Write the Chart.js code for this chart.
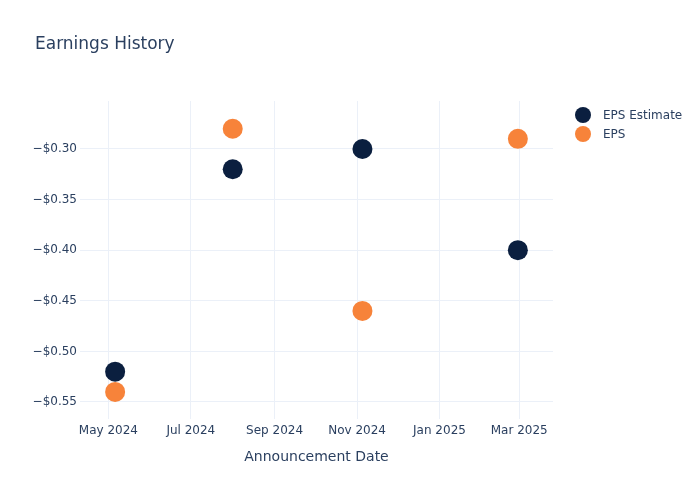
<!DOCTYPE html>
<html>
<head>
<meta charset="utf-8">
<script src="https://cdn.jsdelivr.net/npm/chart.js@4.4.1/dist/chart.umd.min.js"></script>
<style>
  html, body { margin: 0; padding: 0; background: #fff; }
  #wrap { width: 700px; height: 500px; }
</style>
</head>
<body>
<div id="wrap"><canvas id="chart" width="700" height="500"></canvas></div>
<script>
const seriesNames = ['EPS Estimate', 'EPS'];
const seriesColors = ['#0b1f3f', '#f7833a'];
const announceDates = ['2024-05-06', '2024-08-01', '2024-11-05', '2025-02-28'];
const epsEstimate = [-0.52, -0.32, -0.30, -0.40];
const epsActual = [-0.54, -0.28, -0.46, -0.29];
const xTickDates = ['2024-05-01', '2024-07-01', '2024-09-01', '2024-11-01', '2025-01-01', '2025-03-01'];
const xTickLabels = ['May 2024', 'Jul 2024', 'Sep 2024', 'Nov 2024', 'Jan 2025', 'Mar 2025'];
const yTicks = [-0.55, -0.50, -0.45, -0.40, -0.35, -0.30];
const xRange = ['2024-04-10', '2025-03-26'];
const yRange = [-0.5668, -0.2526];

const FONT = "'DejaVu Sans', Verdana, sans-serif";
const TEXT = '#2a3f5f';
const GRID = '#ebf0f8';

const ms = d => Date.parse(d + 'T00:00:00Z');
const toPoints = vals => vals.map((v, i) => ({ x: ms(announceDates[i]), y: v }));
const fmtMoney = v => (v < 0 ? '\u2212' : '') + '$' + Math.abs(v).toFixed(2);

// title + legend drawn at plotly-like spots
const decor = {
    id: 'decor',
    afterDraw(chart) {
        const ctx = chart.ctx;
        ctx.save();
        ctx.fillStyle = TEXT;
        ctx.font = '17px ' + FONT;
        ctx.textBaseline = 'middle';
        ctx.textAlign = 'left';
        ctx.fillText('Earnings History', 35, 45);

        ctx.font = '12px ' + FONT;
        chart.data.datasets.forEach((ds, i) => {
            const y = 115 + i * 19;
            ctx.beginPath();
            ctx.arc(583, y, 8, 0, Math.PI * 2);
            ctx.fillStyle = ds.backgroundColor;
            ctx.fill();
            ctx.fillStyle = TEXT;
            ctx.fillText(ds.label, 603, y + 1);
        });
        ctx.restore();
    }
};

new Chart(document.getElementById('chart').getContext('2d'), {
    type: 'scatter',
    data: {
        datasets: [
            {
                label: seriesNames[0],
                data: toPoints(epsEstimate),
                backgroundColor: seriesColors[0],
                borderColor: seriesColors[0],
                pointRadius: 10,
                pointHoverRadius: 10,
                borderWidth: 0,
                order: 1
            },
            {
                label: seriesNames[1],
                data: toPoints(epsActual),
                backgroundColor: seriesColors[1],
                borderColor: seriesColors[1],
                pointRadius: 10,
                pointHoverRadius: 10,
                borderWidth: 0,
                order: 0
            }
        ]
    },
    options: {
        responsive: false,
        animation: false,
        layout: { padding: { top: 101, right: 147, bottom: 0, left: 0 } },
        plugins: {
            legend: { display: false },
            tooltip: { enabled: false }
        },
        scales: {
            x: {
                type: 'linear',
                min: ms(xRange[0]),
                max: ms(xRange[1]),
                afterBuildTicks: scale => { scale.ticks = xTickDates.map(d => ({ value: ms(d) })); },
                afterFit: scale => { scale.height = 81; },
                grid: { color: GRID, lineWidth: 1, drawTicks: false },
                border: { display: false },
                ticks: {
                    padding: 5,
                    color: TEXT,
                    font: { family: FONT, size: 12 },
                    maxRotation: 0,
                    autoSkip: false,
                    callback: v => xTickLabels[xTickDates.map(ms).indexOf(v)]
                },
                title: {
                    display: true,
                    text: 'Announcement Date',
                    color: TEXT,
                    font: { family: FONT, size: 14 },
                    padding: { top: 0, bottom: 34 }
                }
            },
            y: {
                min: yRange[0],
                max: yRange[1],
                afterBuildTicks: scale => { scale.ticks = yTicks.map(v => ({ value: v })); },
                afterFit: scale => { scale.width = 80; },
                grid: { color: GRID, lineWidth: 1, drawTicks: false },
                border: { display: false },
                ticks: {
                    padding: 3,
                    color: TEXT,
                    font: { family: FONT, size: 12 },
                    callback: v => fmtMoney(v)
                }
            }
        }
    },
    plugins: [decor]
});
</script>
</body>
</html>
